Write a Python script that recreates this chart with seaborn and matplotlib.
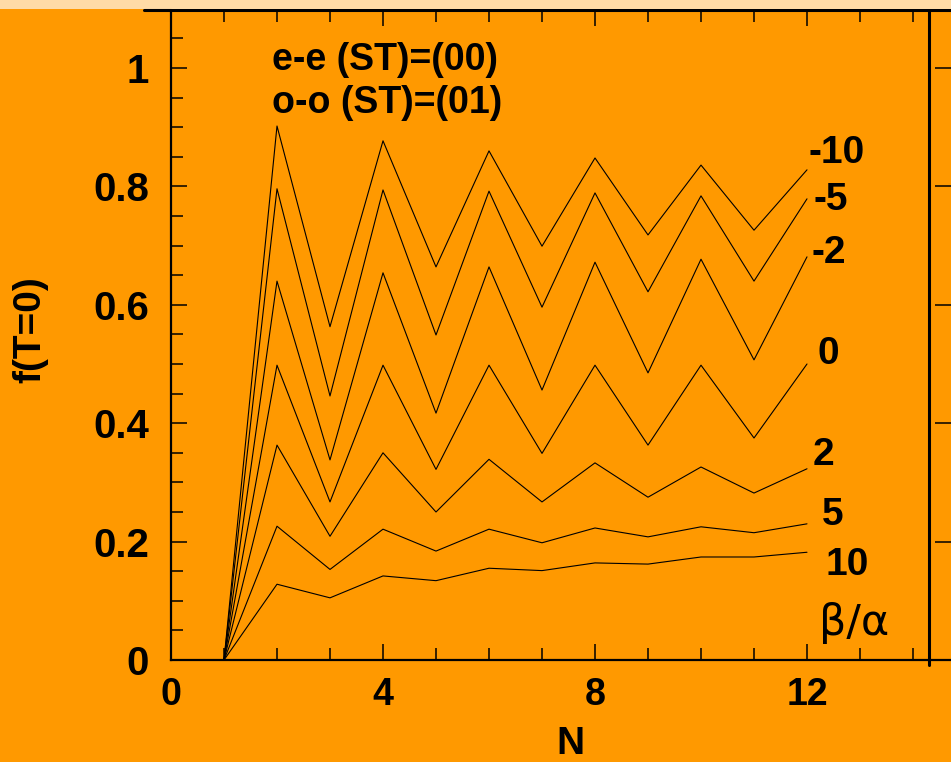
import numpy as np
import pandas as pd
import matplotlib
matplotlib.use("Agg")
import matplotlib.pyplot as plt
import seaborn as sns
from matplotlib.ticker import MultipleLocator, FuncFormatter
from matplotlib.lines import Line2D
from matplotlib.patches import Rectangle

# chart data
n_sites = list(range(1, 13))
ratio_labels = ["-10", "-5", "-2", "0", "2", "5", "10"]
f_m10 = [0, 0.902, 0.563, 0.877, 0.664, 0.860, 0.699, 0.848, 0.718, 0.836, 0.726, 0.828]
f_m5 = [0, 0.796, 0.446, 0.794, 0.549, 0.792, 0.596, 0.789, 0.622, 0.784, 0.640, 0.779]
f_m2 = [0, 0.640, 0.338, 0.654, 0.417, 0.664, 0.456, 0.672, 0.485, 0.677, 0.507, 0.681]
f_0 = [0, 0.498, 0.267, 0.498, 0.322, 0.498, 0.349, 0.498, 0.363, 0.498, 0.375, 0.500]
f_2 = [0, 0.363, 0.209, 0.350, 0.250, 0.339, 0.267, 0.333, 0.275, 0.326, 0.282, 0.323]
f_5 = [0, 0.226, 0.153, 0.221, 0.184, 0.221, 0.198, 0.223, 0.208, 0.225, 0.215, 0.230]
f_10 = [0, 0.128, 0.105, 0.142, 0.134, 0.155, 0.151, 0.164, 0.162, 0.174, 0.174, 0.182]
curves = [f_m10, f_m5, f_m2, f_0, f_2, f_5, f_10]

ORANGE = "#FF9900"

df = pd.concat([pd.DataFrame({"N": n_sites, "f": vals, "ratio": lab})
                for lab, vals in zip(ratio_labels, curves)])

sns.set_style("ticks")
plt.rcParams["font.family"] = ["Liberation Sans", "DejaVu Sans"]
plt.rcParams["font.weight"] = "bold"
for key in ["text.color", "axes.labelcolor", "xtick.color", "ytick.color", "axes.edgecolor"]:
    plt.rcParams[key] = "black"

fig = plt.figure(figsize=(9.51, 7.62), dpi=100, facecolor=ORANGE)
fig.patches.append(Rectangle((0, 1 - 9 / 762), 1, 9 / 762, transform=fig.transFigure,
                             facecolor="#FFDBA6", edgecolor="none", zorder=0))
ax = fig.add_axes([171 / 951, 1 - 660 / 762, (951 - 171) / 951, 650 / 762])
ax.set_facecolor(ORANGE)

sns.lineplot(data=df, x="N", y="f", hue="ratio", palette=["black"] * 7,
             estimator=None, legend=False, lw=0.8, ax=ax)

ax.set_xlim(0, (951 - 171) / 53)
ax.set_ylim(0, 650 / 592)
ax.xaxis.set_major_locator(MultipleLocator(4))
ax.xaxis.set_minor_locator(MultipleLocator(1))
ax.yaxis.set_major_locator(MultipleLocator(0.2))
ax.yaxis.set_minor_locator(MultipleLocator(0.05))
ax.yaxis.set_major_formatter(FuncFormatter(lambda v, p: f"{v:g}"))

ax.tick_params(axis="x", which="major", direction="in", length=11.5, width=1.1,
               top=True, labelsize=27, pad=12, colors="black")
ax.tick_params(axis="x", which="minor", direction="in", length=8.6, width=1.1, top=True,
               colors="black")
ax.tick_params(axis="y", which="major", direction="in", length=11.5, width=1.1,
               right=True, labelsize=29, pad=16, colors="black")
ax.tick_params(axis="y", which="minor", direction="in", length=8.6, width=1.1, right=False,
               colors="black")
for t in ax.get_xticklabels() + ax.get_yticklabels():
    t.set_fontweight("bold")

for side in ["left", "bottom"]:
    ax.spines[side].set_linewidth(1.6)
    ax.spines[side].set_color("black")
ax.spines["top"].set_linewidth(2.2)
ax.spines["top"].set_color("black")
ax.spines["right"].set_visible(False)
ax.set_xlabel("")
ax.set_ylabel("")

# frame line on the right and top extension
ax.axvline((929 - 171) / 53, ymin=-0.008, ymax=1, color="black", lw=2.2, clip_on=False)
fig.lines.append(Line2D([144 / 951, 171 / 951], [1 - 10 / 762] * 2,
                        transform=fig.transFigure, color="black", lw=2.2))

# curve labels
label_pos = {"-10": (12.02, 0.856), "-5": (12.13, 0.777), "-2": (12.09, 0.6875),
             "0": (12.2, 0.517), "2": (12.1, 0.346), "5": (12.28, 0.245), "10": (12.34, 0.160)}
for lab in ratio_labels:
    x, y = label_pos[lab]
    ax.text(x, y, lab, fontsize=28, fontweight="bold", ha="left", va="center")
ax.text(12.22, 0.0625, "β/α", fontsize=31, fontweight="normal", ha="left", va="center",
        family=["DejaVu Sans"])

ax.text(1.9, 1.0135, "e-e (ST)=(00)", fontsize=27, fontweight="bold", ha="left", va="center")
ax.text(1.9, 0.941, "o-o (ST)=(01)", fontsize=27, fontweight="bold", ha="left", va="center")

fig.text(30 / 951, 1 - 330 / 762, "f(T=0)", rotation=90, fontsize=28,
         fontweight="bold", ha="center", va="center")
fig.text(570 / 951, 1 - 744 / 762, "N", fontsize=28, fontweight="bold",
         ha="center", va="center")

fig.savefig("out.png", dpi=100, facecolor=ORANGE)
